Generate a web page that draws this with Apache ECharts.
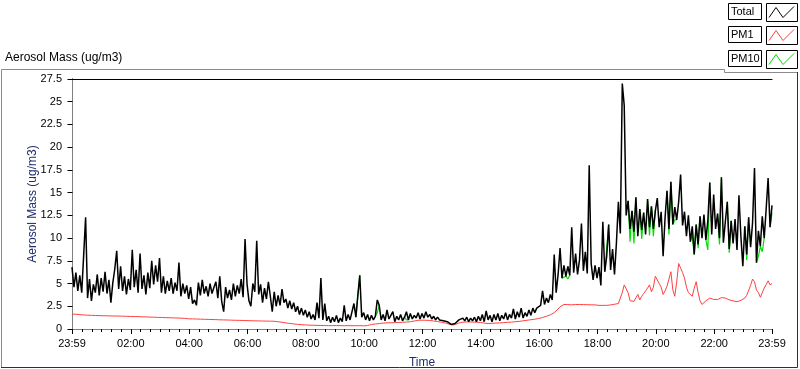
<!DOCTYPE html>
<html><head><meta charset="utf-8">
<script src="https://cdn.jsdelivr.net/npm/echarts@6/dist/echarts.min.js"></script>
<style>html,body{margin:0;padding:0;background:#fff}#c{width:800px;height:369px}</style>
</head><body><div id="c"></div><script>
// Time grid: minutes after 00:00 (23:59 of the previous day = -1), every 4 minutes
const startMinute = -1;
const stepMinutes = 4;

const totalValues = [
6.8,4.6,6.2,4.2,5.9,4.0,8.1,12.3,3.4,5.5,3.1,4.9,4.0,6.0,3.7,5.6,4.1,6.3,3.9,5.4,2.9,5.1,6.6,8.6,4.4,6.9,4.2,5.8,3.8,5.5,
4.3,8.7,4.6,6.5,4.0,8.3,4.4,5.9,3.8,6.2,4.5,7.5,4.9,7.0,5.2,7.8,4.0,5.8,3.9,5.3,4.2,5.6,3.9,5.1,4.2,7.3,3.6,5.0,3.9,4.8,
3.3,4.6,2.8,3.2,2.6,5.1,3.7,5.4,3.9,4.7,3.6,5.0,3.9,4.6,5.2,3.4,5.8,3.0,1.9,4.6,3.4,4.3,3.2,5.0,3.6,4.8,3.9,5.5,3.5,9.9,
5.0,3.1,2.5,5.0,4.1,9.7,3.8,4.9,2.9,4.5,3.3,5.2,3.6,1.9,4.1,2.5,3.7,2.6,4.4,2.9,3.3,2.3,3.1,2.2,2.9,1.9,2.5,1.6,2.3,1.5,
2.1,1.3,1.9,1.1,1.6,1.0,2.9,1.2,5.6,1.0,2.8,0.9,1.4,0.7,1.3,0.8,1.5,0.7,1.2,0.8,2.6,0.9,1.6,1.0,1.2,2.8,1.3,3.7,5.9,1.3,
1.8,1.0,1.6,0.9,1.5,1.0,1.4,3.2,2.6,1.0,1.6,0.9,2.1,1.1,1.5,1.9,0.8,1.4,1.0,1.6,0.9,1.3,1.9,1.0,1.7,1.1,1.5,1.2,1.8,1.1,
1.7,1.2,1.9,1.3,1.6,1.1,1.4,1.0,1.3,1.0,1.2,0.9,1.1,0.8,0.7,0.5,0.4,0.6,0.7,1.0,0.8,1.2,0.9,1.3,0.8,1.2,0.9,1.3,0.8,1.4,
0.9,1.6,0.8,2.0,1.0,1.5,0.8,1.6,1.0,1.7,0.9,1.5,1.1,1.8,1.0,1.6,1.2,2.2,1.1,1.9,1.3,2.3,1.2,1.8,1.4,2.1,1.5,2.3,1.8,2.3,
2.1,2.6,4.2,2.7,3.4,2.9,3.8,3.2,8.2,4.0,6.0,8.9,5.6,7.0,5.8,6.9,5.9,11.2,6.2,8.3,6.0,7.6,11.6,6.4,8.5,6.1,18.0,7.2,5.4,7.0,
5.6,6.8,4.8,11.8,6.3,8.0,11.5,6.5,8.8,6.0,9.5,14.0,10.5,27.0,24.6,12.5,14.1,11.0,13.0,10.7,14.5,10.2,13.2,10.9,12.8,10.4,14.3,11.2,13.5,11.0,
13.0,14.4,11.2,12.9,8.0,12.2,15.2,11.0,16.2,11.5,13.4,12.0,14.0,17.0,11.4,12.9,10.2,12.5,9.6,11.3,8.2,11.5,9.3,12.4,10.0,12.6,9.8,11.9,16.1,10.4,
14.8,11.0,12.7,10.0,16.7,9.5,11.8,14.0,8.8,11.9,9.4,12.1,8.7,14.7,10.2,6.9,11.3,8.2,12.3,9.0,11.7,17.7,7.3,10.8,9.1,12.4,10.0,13.2,16.6,11.2,13.6
];

const pm1Values = [
1.65,1.6,1.62,1.55,1.58,1.52,1.55,1.5,1.52,1.48,1.5,1.46,1.49,1.45,1.47,1.43,1.46,1.42,1.45,1.41,1.44,1.4,1.43,1.39,1.42,1.38,1.41,1.37,1.4,1.36,
1.38,1.35,1.37,1.33,1.36,1.32,1.34,1.3,1.33,1.29,1.31,1.27,1.3,1.26,1.28,1.24,1.27,1.23,1.25,1.21,1.24,1.2,1.22,1.18,1.21,1.17,1.19,1.15,1.17,1.13,
1.12,1.1,1.11,1.08,1.1,1.06,1.08,1.05,1.07,1.04,1.06,1.02,1.04,1.01,1.03,0.99,1.01,0.98,1.0,0.97,0.99,0.95,0.97,0.94,0.96,0.93,0.95,0.92,0.94,0.91,
0.92,0.9,0.91,0.89,0.9,0.88,0.89,0.87,0.88,0.86,0.87,0.85,0.86,0.84,0.85,0.82,0.8,0.76,0.74,0.7,0.67,0.64,0.61,0.58,0.56,0.53,0.51,0.49,0.47,0.46,
0.45,0.44,0.42,0.43,0.41,0.42,0.4,0.41,0.39,0.4,0.38,0.39,0.37,0.38,0.37,0.36,0.38,0.36,0.37,0.35,0.36,0.35,0.37,0.35,0.36,0.34,0.36,0.35,0.37,0.36,
0.35,0.36,0.38,0.45,0.5,0.52,0.55,0.58,0.6,0.63,0.65,0.66,0.68,0.67,0.69,0.7,0.7,0.72,0.71,0.73,0.74,0.75,0.76,0.77,0.8,0.84,0.88,0.92,0.96,0.98,
0.97,0.95,0.96,0.93,0.94,0.9,0.88,0.85,0.82,0.78,0.74,0.7,0.66,0.6,0.52,0.46,0.44,0.5,0.58,0.66,0.72,0.75,0.77,0.76,0.78,0.77,0.76,0.78,0.75,0.74,
0.72,0.68,0.65,0.62,0.6,0.61,0.63,0.64,0.65,0.66,0.67,0.68,0.7,0.71,0.73,0.74,0.76,0.78,0.8,0.82,0.84,0.87,0.9,0.93,0.96,0.99,1.02,1.05,1.08,1.11,
1.15,1.2,1.26,1.33,1.4,1.48,1.56,1.65,1.8,1.95,2.2,2.45,2.62,2.7,2.72,2.68,2.7,2.66,2.72,2.69,2.74,2.7,2.73,2.68,2.71,2.67,2.7,2.66,2.69,2.65,
2.62,2.6,2.58,2.6,2.57,2.6,2.63,2.65,2.7,2.72,2.75,2.8,3.0,4.0,4.85,4.7,4.0,3.1,3.15,3.05,3.2,3.8,3.2,3.6,3.9,4.2,4.5,4.85,4.1,4.6,
5.8,6.0,5.0,4.6,3.8,4.2,4.7,5.5,6.3,4.3,3.6,5.2,7.2,6.7,6.2,5.6,4.6,4.0,3.8,3.6,4.5,5.2,4.0,3.1,2.7,2.9,3.1,3.3,3.4,3.3,
3.25,3.2,3.25,3.35,3.45,3.5,3.4,3.3,3.2,3.2,3.1,3.05,3.0,3.1,3.15,3.2,3.4,3.7,3.9,4.8,5.5,5.2,4.3,4.0,3.5,3.6,4.5,4.9,5.3,4.85,5.0
];

const pm10Values = [
6.8,4.6,6.2,4.2,5.9,4.0,8.1,12.3,3.4,5.5,3.1,4.9,4.0,6.0,3.7,5.6,4.1,6.3,3.9,5.4,2.9,5.1,6.6,8.6,4.4,6.9,4.2,5.8,3.8,5.5,
4.3,8.7,4.6,6.5,4.0,8.3,4.4,5.9,3.8,6.2,4.5,7.5,4.9,7.0,5.2,7.8,4.0,5.8,3.9,5.3,4.2,5.6,3.9,5.1,4.2,7.3,3.6,5.0,3.9,4.8,
3.3,4.6,2.8,3.2,2.6,5.1,3.7,5.4,3.9,4.7,3.6,5.0,3.9,4.6,5.2,3.4,5.8,3.0,1.9,4.6,3.4,4.3,3.2,5.0,3.6,4.8,3.9,5.5,3.5,9.9,
5.0,3.1,2.5,5.0,4.1,9.7,3.8,4.9,2.9,4.5,3.3,5.2,3.6,1.9,4.1,2.5,3.7,2.6,4.4,2.9,3.3,2.3,3.1,2.2,2.9,1.9,2.5,1.6,2.3,1.5,
2.1,1.3,1.9,1.1,1.6,1.0,2.9,1.2,5.6,1.0,2.8,0.9,1.4,0.7,1.3,0.8,1.5,0.7,1.2,0.8,2.6,0.9,1.6,1.0,1.2,2.8,1.3,1.5,5.9,1.3,
1.8,1.0,1.6,0.9,1.5,1.0,1.4,1.8,2.6,1.0,1.6,0.9,2.1,1.1,1.5,1.9,0.8,1.4,1.0,1.6,0.9,1.3,1.0,1.0,1.7,1.1,1.5,1.2,1.8,1.1,
1.7,1.2,1.9,1.3,1.6,1.1,1.4,1.0,1.3,1.0,1.2,0.9,1.1,0.8,0.7,0.5,0.4,0.6,0.7,1.0,0.8,1.2,0.9,1.3,0.8,1.2,0.9,1.3,0.8,1.4,
0.9,1.6,0.8,2.0,1.0,1.5,0.8,1.6,1.0,1.7,0.9,1.5,1.1,1.8,1.0,1.6,1.2,2.2,1.1,1.9,1.3,2.3,1.2,1.8,1.4,2.1,1.5,2.3,1.8,2.3,
2.1,2.6,4.2,2.7,3.4,2.9,3.8,3.2,8.2,4.0,6.0,8.9,5.6,5.8,5.8,5.5,5.9,11.2,6.2,8.3,6.0,7.6,11.6,6.4,8.5,6.1,18.0,7.2,5.4,7.0,
5.6,6.8,4.8,11.8,6.3,6.2,11.5,6.5,8.8,6.0,9.5,14.0,10.5,27.0,24.6,12.5,14.1,9.6,13.0,9.4,14.5,10.2,13.2,9.9,12.8,10.4,14.3,10.3,13.5,10.2,
13.0,14.4,11.2,12.9,8.0,12.2,15.2,10.4,16.2,11.5,12.0,12.0,14.0,17.0,11.4,12.9,10.2,12.5,9.6,10.3,8.2,11.5,8.9,12.4,10.0,12.6,9.8,8.7,16.1,10.4,
14.8,11.0,12.7,9.3,16.7,9.5,11.8,14.0,8.4,11.9,9.4,12.1,8.7,14.7,10.2,6.9,11.3,7.6,12.3,9.0,11.7,17.7,7.3,8.0,9.1,8.5,10.0,13.2,16.6,11.2,12.8
];

const xTickMinutes = [-1,120,240,360,480,600,720,840,960,1080,1200,1320,1439];
const xTickLabels = ['23:59','02:00','04:00','06:00','08:00','10:00','12:00','14:00','16:00','18:00','20:00','22:00','23:59'];
const seriesNames = ['Total','PM1','PM10'];
const seriesColors = ['#000000','#ff4040','#00dd00'];

const times = totalValues.map((_, i) => startMinute + i * stepMinutes);
const pairs = vals => vals.map((v, i) => [times[i], v]);
// PM10 is drawn underneath Total; only its segments that differ from Total are stroked
const differs = i => i >= 0 && i < pm10Values.length && pm10Values[i] !== totalValues[i];
const pm10Shown = pm10Values.map((v, i) => [times[i], (differs(i - 1) || differs(i) || differs(i + 1)) ? v : null]);

const minorTicks = [];
for (let m = 20; m < 1439; m += 20) if (m % 120 !== 0) minorTicks.push(m);

const FONT = '"Liberation Sans", Arial, sans-serif';
const NAVY = '#1f2d6b';

const chart = echarts.init(document.getElementById('c'), null, {renderer: 'canvas'});

const xMin = xTickMinutes[0], xMax = xTickMinutes[xTickMinutes.length - 1];
const baseX = {type: 'value', min: xMin, max: xMax, splitLine: {show: false}};

const graphic = [];
graphic.push({type: 'text', x: 5, y: 52, style: {text: 'Aerosol Mass (ug/m3)', font: '12px ' + FONT, fill: '#000'}});
graphic.push({type: 'polyline', shape: {points: [[1.5, 367], [1.5, 69.5], [724.5, 69.5], [724.5, 72.5], [798, 72.5]]}, style: {stroke: '#8c8c8c', lineWidth: 1, fill: null}});
graphic.push({type: 'polyline', shape: {points: [[1, 367.5], [797.5, 367.5], [797.5, 72]]}, style: {stroke: '#303030', lineWidth: 1, fill: null}});
seriesNames.forEach((nm, k) => {
  const y0 = 3.5 + Math.round(k * 23.3);
  graphic.push({type: 'rect', shape: {x: 728.5, y: y0, width: 33, height: 16}, style: {fill: '#fff', stroke: '#000', lineWidth: 1}});
  graphic.push({type: 'text', x: 731, y: y0 + 2.5, style: {text: nm, font: '11px ' + FONT, fill: '#000'}});
  graphic.push({type: 'rect', shape: {x: 766.5, y: y0, width: 31, height: 18}, style: {fill: '#fff', stroke: '#000', lineWidth: 1}});
  graphic.push({type: 'polyline', shape: {points: [[769, y0 + 14], [776, y0 + 4], [783, y0 + 14], [794, y0 + 3]]}, style: {stroke: seriesColors[k], lineWidth: 1, fill: null}});
});

chart.setOption({
  animation: false,
  backgroundColor: '#ffffff',
  textStyle: {fontFamily: FONT},
  grid: {left: 72, right: 28, top: 79, bottom: 40, containLabel: false, outerBoundsMode: 'none'},
  xAxis: [
    Object.assign({}, baseX, {
      position: 'bottom',
      axisLine: {show: true, lineStyle: {color: '#808080', width: 1}},
      axisTick: {show: false},
      axisLabel: {customValues: xTickMinutes, color: '#000', fontSize: 11, fontFamily: FONT, margin: 9,
        formatter: v => { const k = xTickMinutes.indexOf(v); return k >= 0 ? xTickLabels[k] : ''; }},
      name: 'Time', nameLocation: 'middle', nameGap: 28, nameMoveOverlap: false,
      nameTextStyle: {color: NAVY, fontSize: 12, fontFamily: FONT}
    }),
    Object.assign({}, baseX, {
      position: 'bottom', offset: 2,
      axisLine: {show: false},
      axisTick: {show: true, customValues: xTickMinutes, length: 5, lineStyle: {color: '#000'}},
      axisLabel: {show: false}
    }),
    Object.assign({}, baseX, {
      position: 'bottom', offset: 2,
      axisLine: {show: false},
      axisTick: {show: true, customValues: minorTicks, length: 3, lineStyle: {color: '#000'}},
      axisLabel: {show: false}
    }),
    Object.assign({}, baseX, {
      position: 'top',
      axisLine: {show: true, lineStyle: {color: '#000', width: 1}},
      axisTick: {show: false}, axisLabel: {show: false}
    })
  ],
  yAxis: [
    {type: 'value', min: 0, max: 27.5, interval: 2.5, position: 'left',
      axisLine: {show: true, lineStyle: {color: '#000'}},
      axisTick: {show: false},
      axisLabel: {color: '#000', fontSize: 11, fontFamily: FONT, margin: 10},
      splitLine: {show: false},
      name: 'Aerosol Mass (ug/m3)', nameLocation: 'middle', nameGap: 33, nameMoveOverlap: false,
      nameTextStyle: {color: NAVY, fontSize: 12, fontFamily: FONT}},
    {type: 'value', min: 0, max: 27.5, interval: 2.5, position: 'left', offset: 2,
      axisLine: {show: false},
      axisTick: {show: true, length: 5, lineStyle: {color: '#000'}},
      axisLabel: {show: false}, splitLine: {show: false}},
    {type: 'value', min: 0, max: 27.5, position: 'right',
      axisLine: {show: true, lineStyle: {color: '#808080'}},
      axisTick: {show: false}, axisLabel: {show: false}, splitLine: {show: false}}
  ],
  graphic: graphic,
  series: [
    {name: 'PM10', type: 'line', data: pm10Shown, showSymbol: false, symbol: 'none', z: 2, connectNulls: false,
      lineStyle: {color: seriesColors[2], width: 1.2}},
    {name: 'PM1', type: 'line', data: pairs(pm1Values), showSymbol: false, symbol: 'none', z: 3,
      lineStyle: {color: seriesColors[1], width: 1}},
    {name: 'Total', type: 'line', data: pairs(totalValues), showSymbol: false, symbol: 'none', z: 4,
      lineStyle: {color: seriesColors[0], width: 1.5}}
  ]
});
</script></body></html>
